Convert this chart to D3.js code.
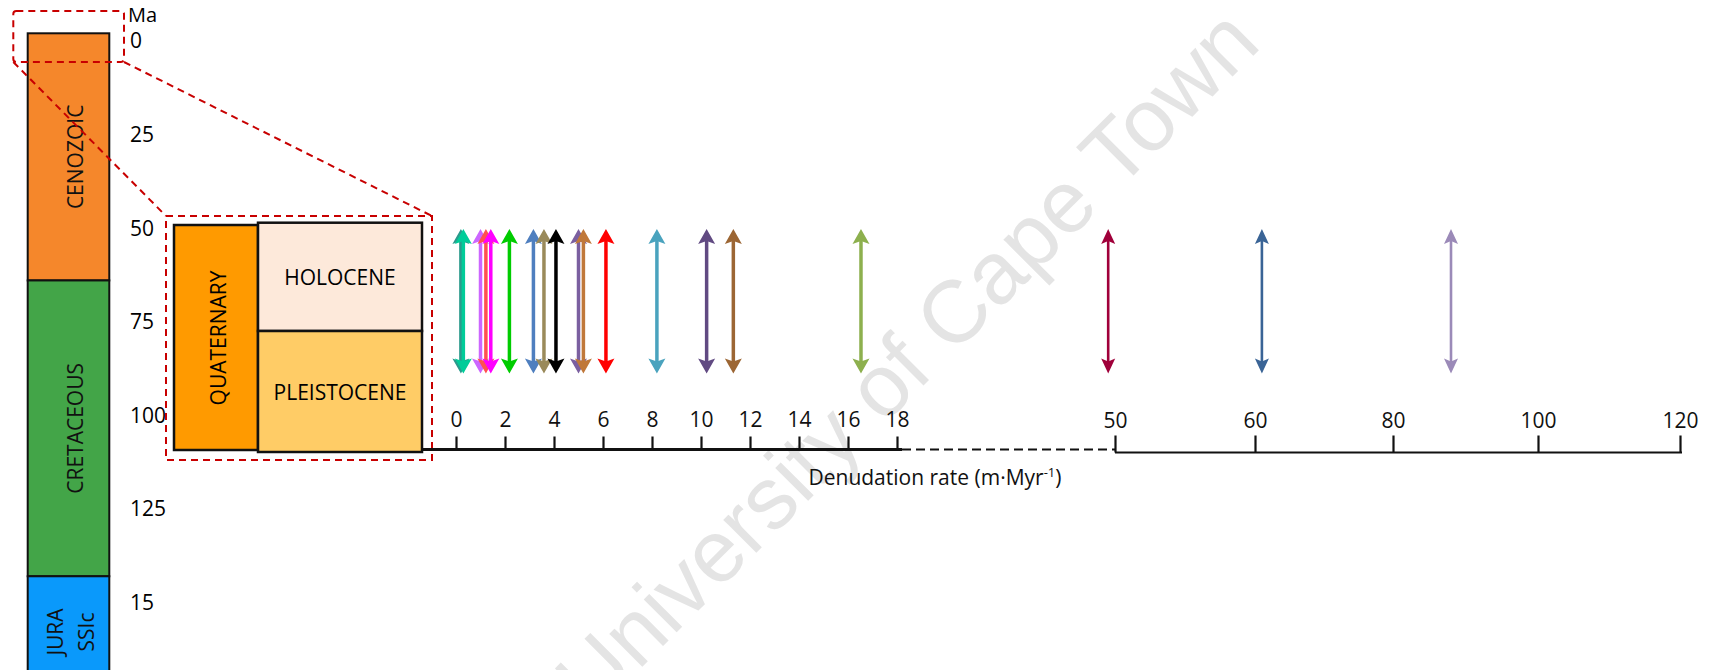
<!DOCTYPE html>
<html>
<head>
<meta charset="utf-8">
<script src="https://cdn.jsdelivr.net/npm/d3@7"></script>
<style>
  body { margin: 0; background: #fff; }
  svg { display: block; font-family: "Open Sans", sans-serif; }
</style>
</head>
<body>
<div id="chart"></div>
<script>
// geological time column (Ma)
let ageTicks = [0, 25, 50, 75, 100, 125, 150];
let ageTickLabels = ["0", "25", "50", "75", "100", "125", "15"];
let eraNames = [["CENOZOIC"], ["CRETACEOUS"], ["JURA", "SSIc"]];
let eraStart = [0, 66, 145];
let eraEnd = [66, 145, 201];
let eraColors = ["#f5872b", "#43a548", "#0a99fb"];

// quaternary inset
let epochNames = ["HOLOCENE", "PLEISTOCENE"];
let epochColors = ["#fde9da", "#ffcc66"];

// denudation rate axis (m/Myr)
let rateTicksLow = [0, 2, 4, 6, 8, 10, 12, 14, 16, 18];
let rateTicksHigh = [50, 60, 80, 100, 120];

// denudation rate estimates
let rates = [0.2, 0.3, 1.0, 1.22, 1.42, 2.18, 3.16, 3.59, 4.08, 5.0, 5.2, 6.12, 8.2, 10.23, 11.32, 16.53, 49, 61, 88];
let rateColors = ["#2b9a8c", "#00cc99", "#cc66ff", "#ff5050", "#ff00ff", "#00cc00", "#4f7fbf", "#9a8a5a", "#000000",
   "#7b5fa0", "#c0783a", "#ff0000", "#4aa3be", "#614a82", "#9c6634", "#8db04e", "#a0003a", "#3a6496", "#9b8ab8"];

let W = 1716, H = 670;

let svg = d3.select("#chart")
   .append("svg")
   .attr("width", W)
   .attr("height", H);

// watermark
svg.append("text")
   .attr("transform", "translate(593,716) rotate(-45)")
   .attr("font-family", "Liberation Sans, Arial, sans-serif")
   .attr("font-size", 88)
   .attr("fill", "#e4e4e4")
   .text("University of Cape Town");

// ---- time column ----
let yAge = d3.scaleLinear().domain([0, 150]).range([33.3, 595]);
let colX = 27.7, colW = 81.6;

let eras = eraNames.map(function (n, i) {
   return {name: n, start: eraStart[i], end: eraEnd[i], color: eraColors[i]};
});

svg.selectAll("rect.era")
   .data(eras)
   .enter().append("rect")
   .attr("class", "era")
   .attr("x", colX)
   .attr("y", function (d) { return yAge(d.start); })
   .attr("width", colW)
   .attr("height", function (d) { return yAge(d.end) - yAge(d.start); })
   .attr("fill", function (d) { return d.color; })
   .attr("stroke", "#111")
   .attr("stroke-width", 2);

eras.forEach(function (d) {
   let cy = d.name.length > 1 ? 632 : (yAge(d.start) + yAge(d.end)) / 2;
   let cx = colX + colW / 2;
   d.name.forEach(function (line, j) {
      let off = d.name.length > 1 ? (j - 0.5) * 31 + 10 : 14;
      svg.append("text")
         .attr("transform", "translate(" + (cx + off) + "," + cy + ") rotate(-90)")
         .attr("text-anchor", "middle")
         .attr("font-size", 21)
         .attr("fill", "#111")
         .text(line);
   });
});

svg.append("text")
   .attr("x", 128)
   .attr("y", 22)
   .attr("font-size", 20)
   .text("Ma");

svg.selectAll("text.age")
   .data(ageTicks)
   .enter().append("text")
   .attr("class", "age")
   .attr("x", 130)
   .attr("y", function (d) { return yAge(d) + 15; })
   .attr("font-size", 21)
   .text(function (d, i) { return ageTickLabels[i]; });

// ---- quaternary inset ----
let qX = 174, qW = 84, epX = 258, epW = 164;
// holocene and pleistocene boxes (not to scale)
let epochTop = [222.7, 331];
let epochBot = [331, 452];

svg.append("rect")
   .attr("x", qX).attr("y", 225)
   .attr("width", qW).attr("height", 225)
   .attr("fill", "#ff9a00")
   .attr("stroke", "#111").attr("stroke-width", 2.5);

svg.append("text")
   .attr("transform", "translate(" + (qX + qW / 2 + 10) + ",338) rotate(-90)")
   .attr("text-anchor", "middle")
   .attr("font-size", 21)
   .text("QUATERNARY");

svg.selectAll("rect.epoch")
   .data(epochNames)
   .enter().append("rect")
   .attr("class", "epoch")
   .attr("x", epX)
   .attr("y", function (d, i) { return epochTop[i]; })
   .attr("width", epW)
   .attr("height", function (d, i) { return epochBot[i] - epochTop[i]; })
   .attr("fill", function (d, i) { return epochColors[i]; })
   .attr("stroke", "#111").attr("stroke-width", 2.5);

svg.selectAll("text.epoch")
   .data(epochNames)
   .enter().append("text")
   .attr("class", "epoch")
   .attr("x", epX + epW / 2)
   .attr("y", function (d, i) { return (epochTop[i] + epochBot[i]) / 2 + 8; })
   .attr("text-anchor", "middle")
   .attr("font-size", 21)
   .text(function (d) { return d; });

// ---- zoom outline ----
let red = "#c80000";
let dash = "7,5";
svg.append("rect")
   .attr("x", 13.3).attr("y", 11).attr("width", 110.7).attr("height", 51)
   .attr("rx", 3)
   .attr("fill", "none").attr("stroke", red).attr("stroke-width", 2).attr("stroke-dasharray", dash);
svg.append("rect")
   .attr("x", 166).attr("y", 216).attr("width", 266).attr("height", 244)
   .attr("fill", "none").attr("stroke", red).attr("stroke-width", 2).attr("stroke-dasharray", dash);
svg.append("line")
   .attr("x1", 13.3).attr("y1", 62).attr("x2", 166).attr("y2", 216)
   .attr("stroke", red).attr("stroke-width", 2).attr("stroke-dasharray", dash);
svg.append("line")
   .attr("x1", 124).attr("y1", 62).attr("x2", 432).attr("y2", 216)
   .attr("stroke", red).attr("stroke-width", 2).attr("stroke-dasharray", dash);

// ---- rate axis ----
let xRate = d3.scaleLinear()
   .domain([0, 18, 50, 60, 80, 100, 120])
   .range([456, 897, 1115, 1255, 1393, 1538, 1680]);

let axisY1 = 449.5, axisY2 = 452.5;

let axLow = svg.append("g")
   .attr("transform", "translate(0," + axisY1 + ")")
   .call(d3.axisTop(xRate).tickValues(rateTicksLow).tickSize(13).tickPadding(10).tickFormat(d3.format("d")));
let axHigh = svg.append("g")
   .attr("transform", "translate(0," + axisY2 + ")")
   .call(d3.axisTop(xRate).tickValues(rateTicksHigh).tickSize(17).tickPadding(8).tickFormat(d3.format("d")));

[axLow, axHigh].forEach(function (ax) {
   ax.select(".domain").remove();
   ax.selectAll(".tick line").attr("stroke", "#111").attr("stroke-width", 2.2);
   ax.selectAll(".tick text")
      .attr("font-family", "Open Sans, sans-serif")
      .attr("font-size", 21)
      .attr("fill", "#111");
});

svg.append("line")
   .attr("x1", epX + epW).attr("x2", xRate(18) + 5)
   .attr("y1", axisY1).attr("y2", axisY1)
   .attr("stroke", "#111").attr("stroke-width", 3);
svg.append("line")
   .attr("x1", xRate(18) + 5).attr("x2", xRate(50))
   .attr("y1", axisY1).attr("y2", axisY1)
   .attr("stroke", "#111").attr("stroke-width", 2).attr("stroke-dasharray", "9,5");
svg.append("line")
   .attr("x1", xRate(50)).attr("x2", xRate(120) + 2)
   .attr("y1", axisY2).attr("y2", axisY2)
   .attr("stroke", "#111").attr("stroke-width", 2);

let title = svg.append("text")
   .attr("x", 935)
   .attr("y", 485)
   .attr("text-anchor", "middle")
   .attr("font-size", 21)
   .attr("fill", "#111");
title.append("tspan").text("Denudation rate (m\u00b7Myr");
title.append("tspan").attr("dy", -8).attr("font-size", 13).text("-1");
title.append("tspan").attr("dy", 8).text(")");

// ---- rate arrows ----
let arrowTop = 229, arrowBot = 373.5;
let arrows = rates.map(function (r, i) { return {rate: r, color: rateColors[i]}; });

function headPath(x, tip, dir, w, h) {
   // dir = 1 for arrow pointing up, -1 for down
   let base = tip + dir * h;
   let notch = tip + dir * (h - 3);
   return "M" + x + "," + tip + "L" + (x - w / 2) + "," + base + "L" + x + "," + notch +
      "L" + (x + w / 2) + "," + base + "Z";
}

let ag = svg.selectAll("g.arrow")
   .data(arrows)
   .enter().append("g")
   .attr("class", "arrow");

ag.append("line")
   .attr("x1", function (d) { return xRate(d.rate); })
   .attr("x2", function (d) { return xRate(d.rate); })
   .attr("y1", arrowTop + 10)
   .attr("y2", arrowBot - 10)
   .attr("stroke", function (d) { return d.color; })
   .attr("stroke-width", function (d) { return d.rate <= 18 ? 3.5 : 2.6; });

ag.append("path")
   .attr("d", function (d) {
      let w = d.rate <= 18 ? 17 : 14;
      return headPath(xRate(d.rate), arrowTop, 1, w, 15);
   })
   .attr("fill", function (d) { return d.color; });

ag.append("path")
   .attr("d", function (d) {
      let w = d.rate <= 18 ? 17 : 14;
      return headPath(xRate(d.rate), arrowBot, -1, w, 15);
   })
   .attr("fill", function (d) { return d.color; });
</script>
</body>
</html>
